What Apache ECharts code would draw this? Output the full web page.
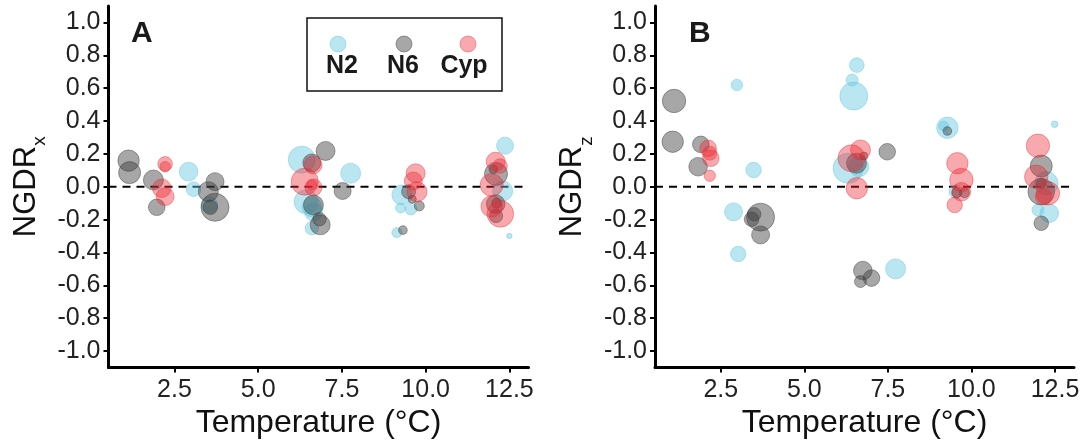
<!DOCTYPE html>
<html>
<head>
<meta charset="utf-8">
<script src="https://cdn.jsdelivr.net/npm/echarts@6/dist/echarts.min.js"></script>
<style>
html,body{margin:0;padding:0;background:#fff;}
#chart{width:1085px;height:441px;}
</style>
</head>
<body>
<div id="chart"></div>
<script>
// [temperature, NGDR, weight]
const panelA_N2 = [[2.92,0.092,9.3],[3.07,-0.015,7.3],[3.54,-0.111,8.3],[6.30,0.165,13.5],[7.76,0.082,10],[6.43,-0.091,12],[6.61,-0.123,10],[6.65,-0.153,9],[6.60,-0.252,6.7],[9.29,-0.050,10],[9.25,-0.129,5],[9.56,-0.135,6],[9.14,-0.279,5],[12.37,0.250,8.5],[12.30,-0.026,10],[12.50,-0.299,2.7]];
const panelA_N6 = [[1.13,0.159,10.7],[1.16,0.086,11],[1.87,0.041,10],[1.97,-0.125,8.3],[3.71,0.031,9],[3.51,-0.030,10],[3.57,-0.125,7.3],[3.71,-0.125,14],[7.01,0.218,9.5],[6.60,0.145,9],[7.52,-0.026,8.5],[6.65,-0.111,10],[6.83,-0.198,6.7],[6.85,-0.232,10],[9.49,-0.030,7],[9.60,-0.076,4],[9.81,-0.117,5],[9.32,-0.264,4.3],[12.10,0.078,11.5],[12.02,0.106,4.3],[12.09,-0.105,9.3],[12.12,-0.100,5],[12.10,-0.178,6.7]];
const panelA_Cyp = [[2.22,0.139,7.3],[2.22,0.122,5.3],[2.12,-0.009,9.3],[2.22,-0.060,9],[6.64,0.133,9],[6.39,0.031,13.5],[6.65,-0.004,8.5],[6.60,0.011,5],[9.70,0.082,9.5],[9.63,0.035,9],[9.74,-0.030,10],[12.09,0.153,9.5],[12.22,0.126,7.3],[11.97,0.011,11.5],[11.97,-0.120,10.7],[12.23,-0.165,13.3]];
const panelB_N2 = [[2.98,0.619,5.7],[3.48,0.102,7.7],[2.88,-0.153,9],[3.02,-0.409,7.7],[6.57,0.740,7.3],[6.43,0.649,6],[6.48,0.552,14],[6.63,0.122,10],[6.31,0.112,15],[7.73,-0.500,10],[9.28,0.359,10.7],[9.17,0.370,5],[9.53,-0.030,6.7],[12.49,0.380,3.3],[12.24,0.021,11.7],[11.99,-0.141,6],[12.33,-0.161,9.3]];
const panelB_N6 = [[1.10,0.522,11.7],[1.06,0.274,10.7],[1.90,0.258,8.3],[1.82,0.122,9.3],[3.69,-0.185,14],[3.50,-0.167,6.7],[3.42,-0.198,7.3],[3.69,-0.293,9],[6.78,0.187,4],[6.56,0.143,10],[7.48,0.213,8.3],[6.75,-0.510,9.3],[7.01,-0.556,8.3],[6.68,-0.577,6],[9.28,0.339,4.3],[9.56,-0.036,5],[9.79,-0.036,5],[12.09,0.126,11],[12.09,0.021,5],[12.09,-0.030,13.3],[12.09,-0.222,7.3]];
const panelB_Cyp = [[2.12,0.234,8.3],[2.17,0.204,7],[2.20,0.173,8.3],[2.17,0.067,5.7],[6.68,0.224,10],[6.41,0.173,13.5],[6.57,-0.009,10.7],[9.58,0.143,10.7],[9.70,0.041,11.7],[9.70,-0.030,9.3],[9.50,-0.111,7.7],[11.99,0.250,11.7],[11.94,0.061,11.7],[12.29,-0.040,11.7],[12.16,-0.060,8.3]];

const xTicks = [2.5, 5.0, 7.5, 10.0, 12.5];
const yTicks = [-1.0, -0.8, -0.6, -0.4, -0.2, 0.0, 0.2, 0.4, 0.6, 0.8, 1.0];
const xRange = [0.53, 13.07];
const yRange = [-1.1, 1.1];
const refLineY = 0;
const seriesNames = ['N2', 'N6', 'Cyp'];
const panelLetters = ['A', 'B'];
const xTitle = 'Temperature (°C)';
const yTitleMain = 'NGDR';
const yTitleSubs = ['x', 'z'];

const colors = {
  N2: 'rgba(100,200,225,0.45)',
  N6: 'rgba(60,60,60,0.45)',
  Cyp: 'rgba(235,40,50,0.40)'
};
const FONT = "'Liberation Sans', Arial, sans-serif";

const grids = [
  {left: 108.5, top: 6, width: 420, height: 361.5, containLabel: false, outerBoundsMode: 'none'},
  {left: 655, top: 6, width: 419, height: 361.5, containLabel: false, outerBoundsMode: 'none'}
];

function xAxisFor(i) {
  return {
    gridIndex: i, type: 'value', min: xRange[0], max: xRange[1],
    name: xTitle, nameLocation: 'middle', nameGap: 34,
    nameTextStyle: {fontFamily: FONT, fontSize: 32, color: '#111'},
    axisLine: {onZero: false, lineStyle: {color: '#000', width: 3}},
    axisTick: {show: true, length: 5, lineStyle: {color: '#000', width: 2}, customValues: xTicks},
    axisLabel: {customValues: xTicks, formatter: v => v.toFixed(1), fontFamily: FONT, fontSize: 25, color: '#222', margin: 10},
    splitLine: {show: false}
  };
}
function yAxisFor(i) {
  return {
    gridIndex: i, type: 'value', min: yRange[0], max: yRange[1],
    name: '{a|' + yTitleMain + '}{b|' + yTitleSubs[i] + '}',
    nameLocation: 'middle', nameGap: 67, nameRotate: 90,
    nameTextStyle: {fontFamily: FONT, color: '#111',
      rich: {a: {fontFamily: FONT, fontSize: 31, color: '#111'},
             b: {fontFamily: FONT, fontSize: 19, color: '#111', verticalAlign: 'bottom', padding: [0,0,-8,0]}}},
    axisLine: {onZero: false, lineStyle: {color: '#000', width: 3}},
    axisTick: {show: true, length: 5, lineStyle: {color: '#000', width: 2}, customValues: yTicks},
    axisLabel: {customValues: yTicks, formatter: v => v.toFixed(1), fontFamily: FONT, fontSize: 25, color: '#222', margin: 8},
    splitLine: {show: false}
  };
}

function scatter(name, data, gi) {
  return {
    name: name, type: 'scatter', xAxisIndex: gi, yAxisIndex: gi,
    data: data,
    symbolSize: d => d[2] * 2,
    itemStyle: {color: colors[name], borderColor: colors[name], borderWidth: 1, opacity: 1},
    emphasis: {disabled: true},
    z: 3
  };
}
function refLine(gi) {
  return {
    type: 'line', xAxisIndex: gi, yAxisIndex: gi,
    data: [[xRange[0], refLineY], [xRange[1], refLineY]],
    symbol: 'none', silent: true,
    lineStyle: {color: '#000', width: 2, type: [8, 6]},
    z: 2
  };
}

const legendX = [338, 404, 468];
const legendTextX = [342, 403, 464];
const graphic = [
  {type: 'text', left: 131, top: 19, style: {text: panelLetters[0], font: "bold 30px " + FONT, fill: '#1a1a1a'}},
  {type: 'text', left: 689, top: 19, style: {text: panelLetters[1], font: "bold 30px " + FONT, fill: '#1a1a1a'}},
  {type: 'rect', shape: {x: 307, y: 18, width: 195, height: 73}, style: {fill: '#fff', stroke: '#111', lineWidth: 1.5}, z: 10}
];
seriesNames.forEach((n, i) => {
  graphic.push({type: 'circle', shape: {cx: legendX[i], cy: 44, r: 8}, style: {fill: colors[n], stroke: colors[n], lineWidth: 1}, z: 11});
  graphic.push({type: 'text', x: legendTextX[i], y: 66, style: {text: n, font: "bold 25px " + FONT, fill: '#1a1a1a', textAlign: 'center', textVerticalAlign: 'middle'}, z: 11});
});

const chart = echarts.init(document.getElementById('chart'), null, {renderer: 'canvas'});
chart.setOption({
  animation: false,
  backgroundColor: '#fff',
  grid: grids,
  xAxis: [xAxisFor(0), xAxisFor(1)],
  yAxis: [yAxisFor(0), yAxisFor(1)],
  series: [
    refLine(0),
    scatter('N2', panelA_N2, 0),
    scatter('N6', panelA_N6, 0),
    scatter('Cyp', panelA_Cyp, 0),
    refLine(1),
    scatter('N2', panelB_N2, 1),
    scatter('N6', panelB_N6, 1),
    scatter('Cyp', panelB_Cyp, 1)
  ],
  graphic: graphic
});
</script>
</body>
</html>
